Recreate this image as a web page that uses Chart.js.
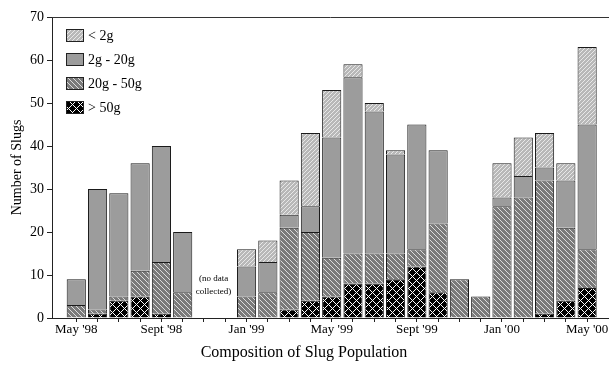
<!DOCTYPE html>
<html>
<head>
<meta charset="utf-8">
<script src="https://cdn.jsdelivr.net/npm/chart.js@4.4.0/dist/chart.umd.min.js"></script>
<style>
  html, body { margin: 0; padding: 0; background: #fff; }
</style>
</head>
<body>
<canvas id="chart" width="609" height="367"></canvas>
<script>
// months from May '98 to May '00 (Nov/Dec '98 not sampled)
const months = ["May '98", "Jun '98", "Jul '98", "Aug '98", "Sept '98", "Oct '98", "Nov '98", "Dec '98",
  "Jan '99", "Feb '99", "Mar '99", "Apr '99", "May '99", "Jun '99", "Jul '99", "Aug '99",
  "Sept '99", "Oct '99", "Nov '99", "Dec '99", "Jan '00", "Feb '00", "Mar '00", "Apr '00", "May '00"];

const over50 = [0, 1, 4, 5, 1, 0, null, null, 0, 0, 2, 4, 5, 8, 8, 9, 12, 6, 0, 0, 0, 0, 1, 4, 7];
const g20to50 = [3, 1, 1, 6, 12, 6, null, null, 5, 6, 19, 16, 9, 7, 7, 6, 4, 16, 9, 5, 26, 28, 31, 17, 9];
const g2to20 = [6, 28, 24, 25, 27, 14, null, null, 7, 7, 3, 6, 28, 41, 33, 23, 29, 17, 0, 0, 2, 5, 3, 11, 29];
const under2 = [0, 0, 0, 0, 0, 0, null, null, 4, 5, 8, 17, 11, 3, 2, 1, 0, 0, 0, 0, 8, 9, 8, 4, 18];

const seriesNames = ['> 50g', '20g - 50g', '2g - 20g', '< 2g'];
const yTicks = [0, 10, 20, 30, 40, 50, 60, 70];
const noteText = ['(no data', 'collected)'];

const canvas = document.getElementById('chart');
const ctx = canvas.getContext('2d');
const serif = 'Liberation Serif, Times New Roman, serif';

// hatch fills, pixel by pixel
function makePattern(size, base, line, test) {
    const c = document.createElement('canvas');
    c.width = c.height = size;
    const p = c.getContext('2d');
    p.fillStyle = base;
    p.fillRect(0, 0, size, size);
    p.fillStyle = line;
    for (let i = 0; i < size; i++) {
        for (let j = 0; j < size; j++) {
            if (test(i, j, size)) p.fillRect(i, j, 1, 1);
        }
    }
    return ctx.createPattern(c, 'repeat');
}

const fillUnder2 = makePattern(4, '#b8b8b8', '#e8e8e8', (i, j, s) => (i + j) % s === 0);
const fill2to20 = '#9c9c9c';
const fill20to50 = makePattern(5, '#7a7a7a', '#dcdcdc', (i, j, s) => ((i - j) % s + s) % s === 0);
const fillOver50 = makePattern(8, '#000000', '#ffffff', (i, j, s) => (i + j) % s === 0 || ((i - j) % s + s) % s === 0);

function toPoints(arr) {
    return arr.map((v, i) => ({ x: i, y: v === 0 ? null : v }));
}

// legend drawn inside the plot, top-left, top of stack first
const insideLegend = {
    id: 'insideLegend',
    afterDraw(chart) {
        const c = chart.ctx;
        const ds = chart.data.datasets.slice().reverse();
        c.save();
        c.font = '14px ' + serif;
        c.textBaseline = 'middle';
        ds.forEach((d, i) => {
            const y = 29 + i * 24;
            c.fillStyle = d.backgroundColor;
            c.fillRect(66, y, 18, 13);
            c.strokeStyle = '#222';
            c.lineWidth = 1;
            c.strokeRect(66.5, y + 0.5, 17, 12);
            c.fillStyle = '#000';
            c.fillText(d.label, 88, y + 7);
        });
        c.restore();
    }
};

// top frame line and the gap note
const extras = {
    id: 'extras',
    afterDraw(chart) {
        const c = chart.ctx;
        const area = chart.chartArea;
        c.save();
        c.strokeStyle = '#333';
        c.lineWidth = 1;
        c.beginPath();
        c.moveTo(area.left, area.top + 0.5);
        c.lineTo(chart.width, area.top + 0.5);
        c.stroke();

        const x = chart.scales.x.getPixelForValue(6.45);
        c.font = '9px ' + serif;
        c.textAlign = 'center';
        c.textBaseline = 'middle';
        c.fillStyle = '#000';
        c.fillText(noteText[0], x, chart.scales.y.getPixelForValue(9.2));
        c.fillText(noteText[1], x, chart.scales.y.getPixelForValue(6.1));
        c.restore();
    }
};

new Chart(ctx, {
    type: 'bar',
    data: {
        datasets: [
            { label: seriesNames[0], data: toPoints(over50), backgroundColor: fillOver50 },
            { label: seriesNames[1], data: toPoints(g20to50), backgroundColor: fill20to50 },
            { label: seriesNames[2], data: toPoints(g2to20), backgroundColor: fill2to20 },
            { label: seriesNames[3], data: toPoints(under2), backgroundColor: fillUnder2 }
        ]
    },
    options: {
        responsive: false,
        animation: false,
        datasets: {
            bar: {
                borderColor: '#1a1a1a',
                borderWidth: 1,
                categoryPercentage: 1.0,
                barPercentage: 0.9
            }
        },
        layout: { padding: { left: 0, top: 17, right: 1, bottom: 0 } },
        plugins: {
            legend: { display: false },
            tooltip: { enabled: false },
            title: {
                display: true,
                position: 'bottom',
                text: 'Composition of Slug Population',
                color: '#000',
                font: { family: serif, size: 16, weight: 'normal' },
                padding: { top: 0, bottom: 5 }
            }
        },
        scales: {
            x: {
                type: 'linear',
                stacked: true,
                offset: false,
                min: -1.14,
                max: 24.98,
                afterBuildTicks: scale => {
                    scale.ticks = months.map((m, i) => ({ value: i }));
                },
                afterFit: scale => {
                    scale.height = 24.8;
                    scale.paddingLeft = 0;
                    scale.paddingRight = 0;
                },
                grid: { drawOnChartArea: false, tickLength: 4, color: '#222', offset: false },
                border: { color: '#222', width: 1 },
                ticks: {
                    autoSkip: false,
                    maxRotation: 0,
                    padding: 0,
                    color: '#000',
                    font: { family: serif, size: 13 },
                    callback: value => (value % 4 === 0 ? months[value] : '')
                }
            },
            y: {
                stacked: true,
                min: 0,
                max: 70,
                afterBuildTicks: scale => {
                    scale.ticks = yTicks.map(v => ({ value: v }));
                },
                afterFit: scale => {
                    scale.width = 52;
                    scale.paddingTop = 0;
                    scale.paddingBottom = 0;
                },
                grid: { drawOnChartArea: false, tickLength: 5, color: '#222' },
                border: { color: '#222', width: 1 },
                ticks: {
                    padding: 3,
                    color: '#000',
                    font: { family: serif, size: 14 }
                },
                title: {
                    display: true,
                    text: 'Number of Slugs',
                    color: '#000',
                    font: { family: serif, size: 14 },
                    padding: { top: 9, bottom: 0 }
                }
            }
        }
    },
    plugins: [insideLegend, extras]
});
</script>
</body>
</html>
